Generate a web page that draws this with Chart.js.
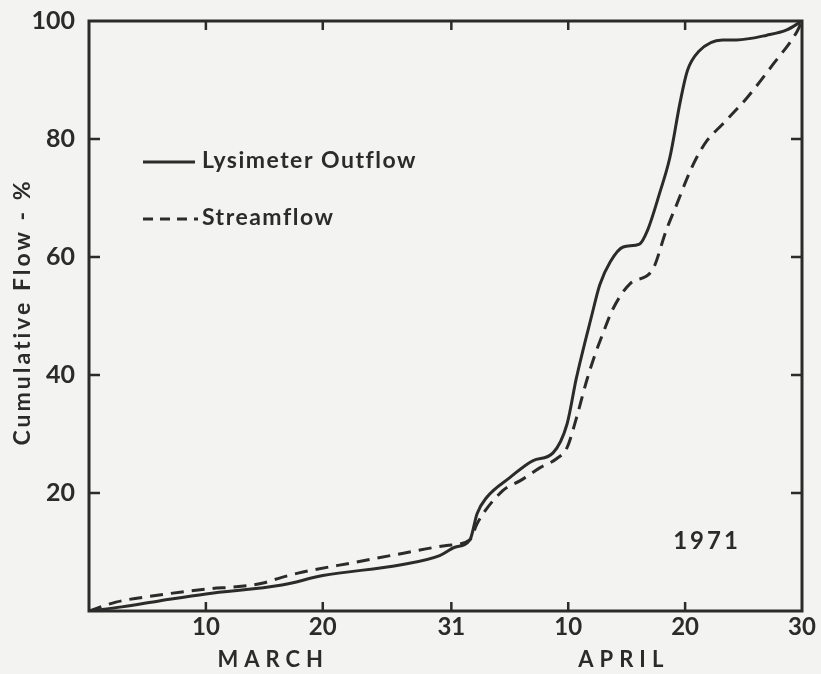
<!DOCTYPE html>
<html>
<head>
<meta charset="utf-8">
<script src="https://cdn.jsdelivr.net/npm/chart.js@4/dist/chart.umd.min.js"></script>
<style>
  html, body { margin: 0; padding: 0; background: #f3f3f1; }
  #wrap { width: 821px; height: 674px; }
</style>
</head>
<body>
<div id="wrap"><canvas id="flowChart" width="821" height="674"></canvas></div>
<script>
// day numbers: March d = d, April d = 31 + d
const lysimeterDays = [0, 2.8, 6, 10, 16.5, 20, 26.6, 30, 31.3, 32.6, 33.2, 34, 36, 38, 39.7, 40.9, 41.7, 43, 43.7, 44.6, 45.7, 47.1, 47.8, 48.8, 49.7, 50.6, 51.2, 52.2, 54.2, 55.4, 58, 59.7, 61];
const lysimeterFlow = [0, 0.7, 1.7, 2.9, 4.4, 6.0, 7.8, 9.4, 10.8, 12.1, 16.5, 19.2, 22.6, 25.5, 26.8, 31.7, 39.5, 50, 55.3, 59.2, 61.7, 62.2, 64.6, 70.7, 76.9, 86.5, 91.6, 94.9, 96.8, 96.8, 97.6, 98.5, 100];

const streamDays = [0, 2.3, 6, 8.6, 10.5, 12.6, 14.8, 16.5, 18.3, 22.9, 26.9, 30.6, 32.6, 33.2, 35.4, 36.9, 38.6, 40, 40.9, 41.7, 42.6, 43.3, 44, 44.8, 46.3, 48.2, 49.4, 50.3, 51.2, 52, 52.9, 54.2, 56.3, 58.5, 60.6, 61];
const streamFlow = [0, 1.5, 2.7, 3.4, 3.8, 4.1, 4.7, 5.7, 6.6, 8.3, 9.8, 11.1, 12.1, 14.8, 20.4, 22.1, 24.3, 25.8, 27.7, 32.7, 39.2, 43.5, 47.2, 51.1, 55.5, 57.8, 64.6, 69, 73.5, 76.9, 79.8, 82.5, 87, 92.6, 98.3, 100];

const xTickDays = [10, 20, 31, 41, 51, 61];
const xTickLabels = ["10", "20", "31", "10", "20", "30"];
const yTicks = [20, 40, 60, 80, 100];
const monthLabels = [{ text: "MARCH", day: 15.5 }, { text: "APRIL", day: 45.5 }];

const ink = "#2b2b2b";
const fontFamily = "Lato, 'Open Sans', sans-serif";

function toPoints(days, vals) {
  return days.map((d, i) => ({ x: d, y: vals[i] }));
}

// frame, inward ticks, legend and captions
const decorations = {
  id: "decorations",
  afterDraw(chart) {
    const ctx = chart.ctx;
    const area = chart.chartArea;
    const xs = chart.scales.x;
    const ys = chart.scales.y;
    ctx.save();
    ctx.strokeStyle = ink;
    ctx.lineWidth = 3;
    ctx.strokeRect(area.left, area.top, area.right - area.left, area.bottom - area.top);

    ctx.lineWidth = 2.5;
    xTickDays.slice(0, -1).forEach((d) => {
      const px = xs.getPixelForValue(d);
      ctx.beginPath();
      ctx.moveTo(px, area.bottom);
      ctx.lineTo(px, area.bottom - 9);
      ctx.moveTo(px, area.top);
      ctx.lineTo(px, area.top + 9);
      ctx.stroke();
    });
    yTicks.slice(0, -1).forEach((v) => {
      const py = ys.getPixelForValue(v);
      ctx.beginPath();
      ctx.moveTo(area.left, py);
      ctx.lineTo(area.left + 11, py);
      ctx.moveTo(area.right, py);
      ctx.lineTo(area.right - 11, py);
      ctx.stroke();
    });

    ctx.fillStyle = ink;
    ctx.textBaseline = "middle";

    // month captions
    ctx.font = "bold 22px " + fontFamily;
    ctx.letterSpacing = "6px";
    ctx.textAlign = "center";
    monthLabels.forEach((m) => {
      ctx.fillText(m.text, xs.getPixelForValue(m.day) + 3, 660);
    });

    // y title
    ctx.save();
    ctx.translate(23, (area.top + area.bottom) / 2 - 4);
    ctx.rotate(-Math.PI / 2);
    ctx.letterSpacing = "3px";
    ctx.font = "bold 23px " + fontFamily;
    ctx.fillText("Cumulative Flow - %", 0, 0);
    ctx.restore();

    // legend
    ctx.textAlign = "left";
    ctx.letterSpacing = "1.5px";
    ctx.font = "bold 23px " + fontFamily;
    ctx.lineWidth = 3;
    ctx.setLineDash([]);
    ctx.beginPath();
    ctx.moveTo(143, 162);
    ctx.lineTo(195, 162);
    ctx.stroke();
    ctx.fillText("Lysimeter Outflow", 202, 161);
    ctx.setLineDash([10, 7]);
    ctx.beginPath();
    ctx.moveTo(143, 219);
    ctx.lineTo(198, 219);
    ctx.stroke();
    ctx.setLineDash([]);
    ctx.fillText("Streamflow", 202, 218);

    // year
    ctx.textAlign = "center";
    ctx.letterSpacing = "3px";
    ctx.font = "bold 24px " + fontFamily;
    ctx.fillText("1971", 707, 541);
    ctx.restore();
  },
};

const ctx = document.getElementById("flowChart").getContext("2d");
const flowChart = new Chart(ctx, {
  type: "line",
  data: {
    datasets: [
      {
        label: "Lysimeter Outflow",
        data: toPoints(lysimeterDays, lysimeterFlow),
        borderColor: ink,
        borderWidth: 3,
        pointRadius: 0,
        cubicInterpolationMode: "monotone",
        fill: false,
      },
      {
        label: "Streamflow",
        data: toPoints(streamDays, streamFlow),
        borderColor: ink,
        borderWidth: 3,
        borderDash: [13, 8],
        pointRadius: 0,
        cubicInterpolationMode: "monotone",
        fill: false,
      },
    ],
  },
  options: {
    responsive: false,
    animation: false,
    layout: { padding: { top: 18, right: 19, left: 0, bottom: 0 } },
    plugins: {
      legend: { display: false },
      tooltip: { enabled: false },
    },
    scales: {
      x: {
        type: "linear",
        min: 0,
        max: 61,
        grid: { display: false, drawTicks: false },
        border: { display: false },
        afterBuildTicks: (scale) => {
          scale.ticks = xTickDays.map((d) => ({ value: d }));
        },
        afterFit: (scale) => {
          scale.height = 63;
        },
        ticks: {
          color: ink,
          padding: 2,
          maxRotation: 0,
          font: { family: fontFamily, size: 24, weight: "bold" },
          callback: (value) => {
            const i = xTickDays.indexOf(value);
            return i >= 0 ? xTickLabels[i] : "";
          },
        },
      },
      y: {
        min: 0,
        max: 100,
        grid: { display: false },
        border: { display: false },
        afterBuildTicks: (scale) => {
          scale.ticks = yTicks.map((v) => ({ value: v }));
        },
        afterFit: (scale) => {
          scale.width = 89;
        },
        ticks: {
          color: ink,
          padding: 6,
          font: { family: fontFamily, size: 25, weight: "bold" },
        },
      },
    },
  },
  plugins: [decorations],
});
</script>
</body>
</html>
